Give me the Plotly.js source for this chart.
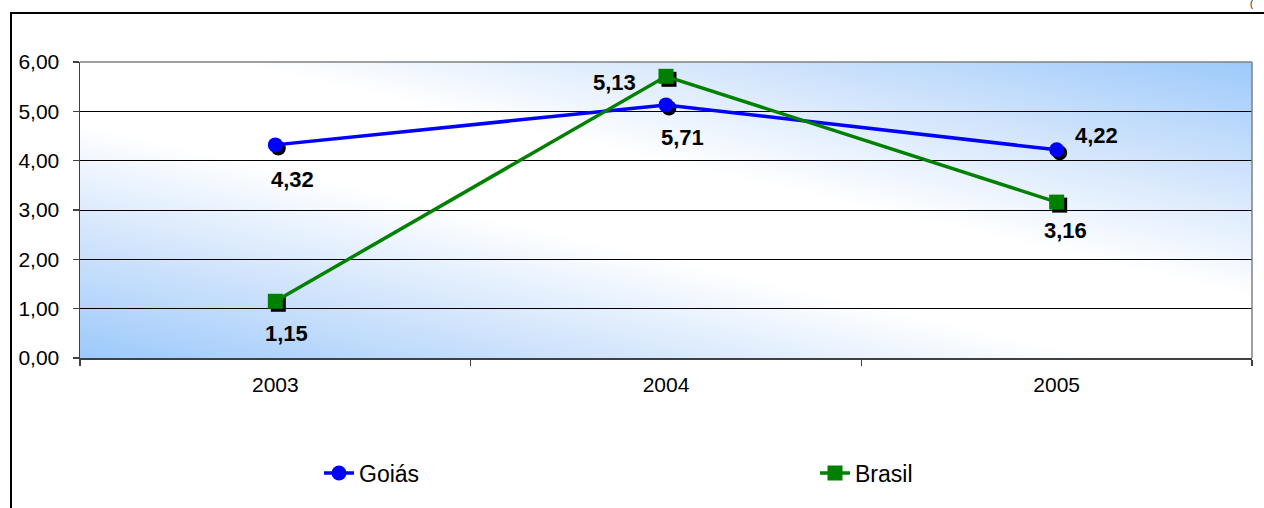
<!DOCTYPE html>
<html>
<head>
<meta charset="utf-8">
<script src="https://cdn.plot.ly/plotly-3.0.1.min.js"></script>
<style>html,body{margin:0;padding:0;background:#fff;}#chart{width:1264px;height:508px;}</style>
</head>
<body>
<div id="chart"></div>
<script>
// ---- data ----
const categories = ['2003', '2004', '2005'];
const goias = [4.32, 5.13, 4.22];
const brasil = [1.15, 5.71, 3.16];
const seriesNames = ['Goiás', 'Brasil'];
const yTickValues = [0, 1, 2, 3, 4, 5, 6];

// ---- styling / placement ----
const FONT = 'Arial, "Liberation Sans", sans-serif';
const W = 1264, H = 508;
const mL = 80, mR = 9, mT = 62, mB = 147;
const pw = W - mL - mR, ph = H - mT - mB;   // paper size
const sh = 3;                                // shadow offset (px)
const dx = sh / pw, dy = sh / ph;

// label offsets (px) relative to each marker
const goiasOff = [[17, -35], [-52, 22], [40, 14]];
const brasilOff = [[11, -32], [16, -61], [9, -28]];

const fmt = v => v.toFixed(2).replace('.', ',');

const gradSvg = "<svg xmlns='http://www.w3.org/2000/svg' width='100' height='100' viewBox='0 0 100 100' preserveAspectRatio='none'>" +
  "<defs><linearGradient id='g' x1='0' y1='1.05' x2='1' y2='-0.05'>" +
  "<stop offset='0' stop-color='#96c6fb'/><stop offset='0.22' stop-color='#cfe3fc'/><stop offset='0.42' stop-color='#ffffff'/>" +
  "<stop offset='0.58' stop-color='#ffffff'/><stop offset='0.78' stop-color='#cfe3fc'/><stop offset='1' stop-color='#96c6fb'/>" +
  "</linearGradient></defs><rect width='100' height='100' fill='url(#g)'/></svg>";
const gradUri = 'data:image/svg+xml;charset=utf-8,' + encodeURIComponent(gradSvg);

const traces = [
  // shadows (on shifted hidden axes, drawn first)
  {x: categories, y: goias, xaxis: 'x', yaxis: 'y', mode: 'markers', showlegend: false, hoverinfo: 'skip',
   marker: {symbol: 'circle', size: 15, color: '#000'}},
  {x: categories, y: brasil, xaxis: 'x', yaxis: 'y', mode: 'markers', showlegend: false, hoverinfo: 'skip',
   marker: {symbol: 'square', size: 15, color: '#000'}},
  // real series
  {x: categories, y: goias, xaxis: 'x2', yaxis: 'y2', name: seriesNames[0], mode: 'lines+markers',
   line: {color: '#0000ff', width: 3.5}, marker: {symbol: 'circle', size: 15, color: '#0000ff'}},
  {x: categories, y: brasil, xaxis: 'x2', yaxis: 'y2', name: seriesNames[1], mode: 'lines+markers',
   line: {color: '#008000', width: 3.5}, marker: {symbol: 'square', size: 15, color: '#008000'}}
];

const annotations = [];
[[goias, goiasOff], [brasil, brasilOff]].forEach(([vals, offs]) => {
  vals.forEach((v, i) => {
    annotations.push({x: i, y: v, xref: 'x2', yref: 'y2', text: fmt(v), showarrow: false,
      xanchor: 'center', yanchor: 'middle', xshift: offs[i][0], yshift: offs[i][1],
      font: {family: FONT, size: 22, color: '#000', weight: 'bold'}});
  });
});
annotations.push({xref: 'paper', yref: 'paper', x: (1248 - mL) / pw, y: (H - mB - 11) / ph, text: '(',
  showarrow: false, xanchor: 'left', yanchor: 'bottom', font: {family: FONT, size: 9, color: '#000'}});

const layout = {
  width: W, height: H,
  margin: {l: mL, r: mR, t: mT, b: mB, pad: 0},
  paper_bgcolor: '#ffffff', plot_bgcolor: 'rgba(0,0,0,0)',
  separators: ',.',
  font: {family: FONT, size: 21, color: '#000'},
  showlegend: true,
  legend: {orientation: 'h', xref: 'container', yref: 'container', x: 319 / W, y: 1 - 473 / H,
    xanchor: 'left', yanchor: 'middle', entrywidth: 451, entrywidthmode: 'pixels',
    font: {family: FONT, size: 23, color: '#000'}, bgcolor: 'rgba(0,0,0,0)', tracegroupgap: 0},
  xaxis: {type: 'category', categoryorder: 'array', categoryarray: categories, range: [-0.5, 2.5],
    domain: [dx, 1], anchor: 'y', visible: false, fixedrange: true},
  yaxis: {range: [0, 6], domain: [0, 1 - dy], anchor: 'x', visible: false, fixedrange: true},
  xaxis2: {type: 'category', categoryorder: 'array', categoryarray: categories, range: [-0.5, 2.5],
    domain: [0, 1 - dx], anchor: 'y2', showgrid: false, zeroline: false,
    showline: true, linecolor: '#404040', linewidth: 1.5,
    ticks: 'outside', tickson: 'boundaries', ticklen: 6, tickcolor: '#404040', tickwidth: 1.5,
    ticklabelstandoff: 7, tickfont: {family: FONT, size: 21, color: '#000'}},
  yaxis2: {range: [0, 6], domain: [dy, 1], anchor: 'x2', tickvals: yTickValues, tickformat: '.2f',
    showgrid: true, gridcolor: '#000', gridwidth: 1, zeroline: false,
    showline: true, linecolor: '#404040', linewidth: 1.5,
    ticks: 'outside', ticklen: 6, tickcolor: '#404040', tickwidth: 1.5,
    ticklabelstandoff: 9, tickfont: {family: FONT, size: 21, color: '#000'}},
  images: [{source: gradUri, xref: 'paper', yref: 'paper', x: 0, y: 1, sizex: 1 - dx, sizey: 1 - dy,
    xanchor: 'left', yanchor: 'top', sizing: 'stretch', layer: 'below'}],
  shapes: [
    // plot area top / right border
    {type: 'line', xref: 'x2 domain', yref: 'y2 domain', x0: 0, x1: 1, y0: 1, y1: 1, line: {color: '#808080', width: 1.5}},
    {type: 'line', xref: 'x2 domain', yref: 'y2 domain', x0: 1, x1: 1, y0: 0, y1: 1, line: {color: '#808080', width: 1.5}},
    // outer chart frame
    {type: 'rect', xref: 'paper', yref: 'paper', x0: (11 - mL) / pw, x1: (W + 20 - mL) / pw,
     y0: (H - mB - (H + 20)) / ph, y1: (H - mB - 13) / ph, line: {color: '#000', width: 2}, fillcolor: 'rgba(0,0,0,0)'}
  ],
  annotations: annotations
};

Plotly.newPlot('chart', traces, layout, {staticPlot: true, displayModeBar: false});
</script>
</body>
</html>
